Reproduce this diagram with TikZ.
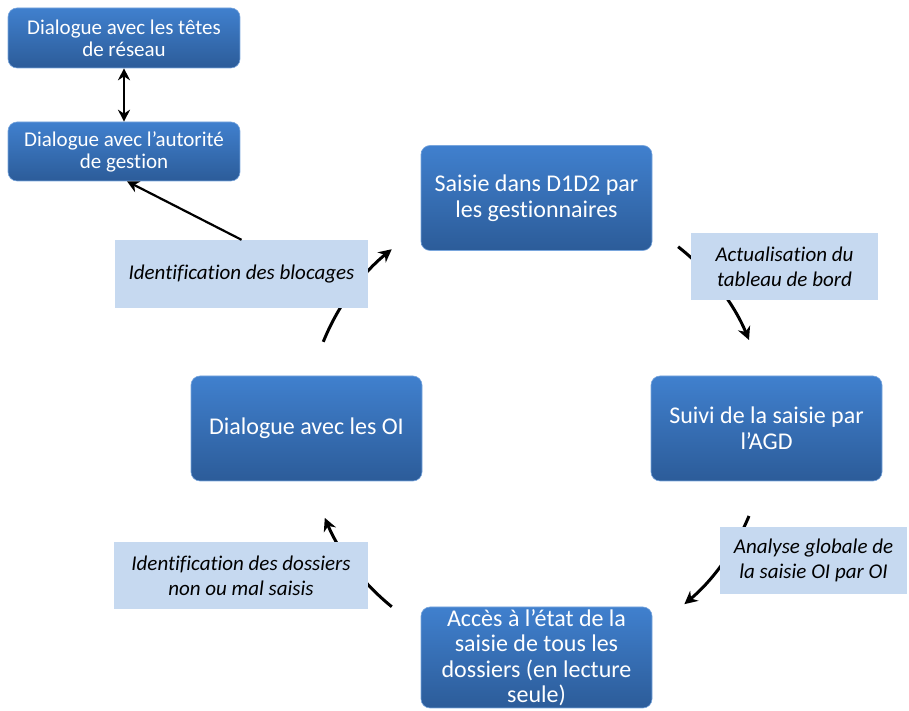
\documentclass[tikz,border=0pt]{standalone}
\usepackage{fontspec}
\setmainfont{Carlito}[Ligatures={NoCommon}]
\usepackage{xcolor}
\usetikzlibrary{arrows.meta}

\definecolor{boxtop}{HTML}{4080CE}
\definecolor{boxbot}{HTML}{2C5C99}
\definecolor{labfill}{HTML}{C6D9F0}

\tikzset{
  etape/.style={rounded corners=9pt, top color=boxtop, bottom color=boxbot,
    draw=boxtop!70!white, line width=0.6pt, text=white, align=center,
    minimum width=231pt, inner sep=2pt, font=\fontsize{24}{25.5}\selectfont},
  petite/.style={etape, minimum height=60pt, minimum width=232pt,
    font=\fontsize{21}{22}\selectfont},
  grande/.style={etape, minimum height=105pt},
  note/.style={fill=labfill, align=center, inner sep=0pt,
    minimum height=67pt, font=\fontsize{21}{25}\selectfont\itshape},
  cycle/.style={line width=3pt, -{Stealth[length=13pt,width=13pt]}},
  lien/.style={line width=2.2pt, -{Stealth[length=12pt,width=12pt]}},
}

\begin{document}
\begin{tikzpicture}[x=1pt,y=1pt]
  \useasboundingbox (0,0) rectangle (909,711);
  \coordinate (ctr) at (536.5,283);

  % cycle arrows
  \draw[cycle] (ctr) ++(52:230) arc[start angle=52, end angle=22.5, radius=230];
  \draw[cycle] (ctr) ++(-22.5:230) arc[start angle=-22.5, end angle=-50, radius=230];
  \draw[cycle] (ctr) ++(-129:230) arc[start angle=-129, end angle=-157, radius=230];
  \draw[cycle] (ctr) ++(158:230) arc[start angle=158, end angle=129, radius=230];

  % boxes
  \node[petite] (tetes) at (124,673) {Dialogue avec les têtes\\de réseau};
  \node[petite, minimum height=59pt] (autorite) at (124,559.5) {Dialogue avec l’autorité\\de gestion};
  \node[grande] (saisie) at (536.5,513) {Saisie dans D1D2 par\\les gestionnaires};
  \node[grande] (suivi) at (766.5,282.5) {Suivi de la saisie par\\l’AGD};
  \node[grande, minimum height=101pt] (acces) at (536.5,53.5) {Accès à l’état de la\\saisie de tous les\\dossiers (en lecture\\seule)};
  \node[grande] (oi) at (306.5,282.5) {Dialogue avec les OI};

  % labels
  \node[note, minimum width=253pt, minimum height=68pt] (blocages) at (241.5,437) {Identification des blocages};
  \node[note, minimum width=187pt] (actu) at (784.5,444.5) {Actualisation du\\tableau de bord};
  \node[note, minimum width=187pt] (analyse) at (813.5,150.5) {Analyse globale de\\la saisie OI par OI};
  \node[note, minimum width=254pt] (dossiers) at (241,135.5) {Identification des dossiers\\non ou mal saisis};

  % links
  \draw[lien, {Stealth[length=12pt,width=12pt]}-{Stealth[length=12pt,width=12pt]}] (tetes.south) -- (autorite.north);
  \draw[lien] (blocages.north) -- ([xshift=3pt]autorite.south);
\end{tikzpicture}
\end{document}
